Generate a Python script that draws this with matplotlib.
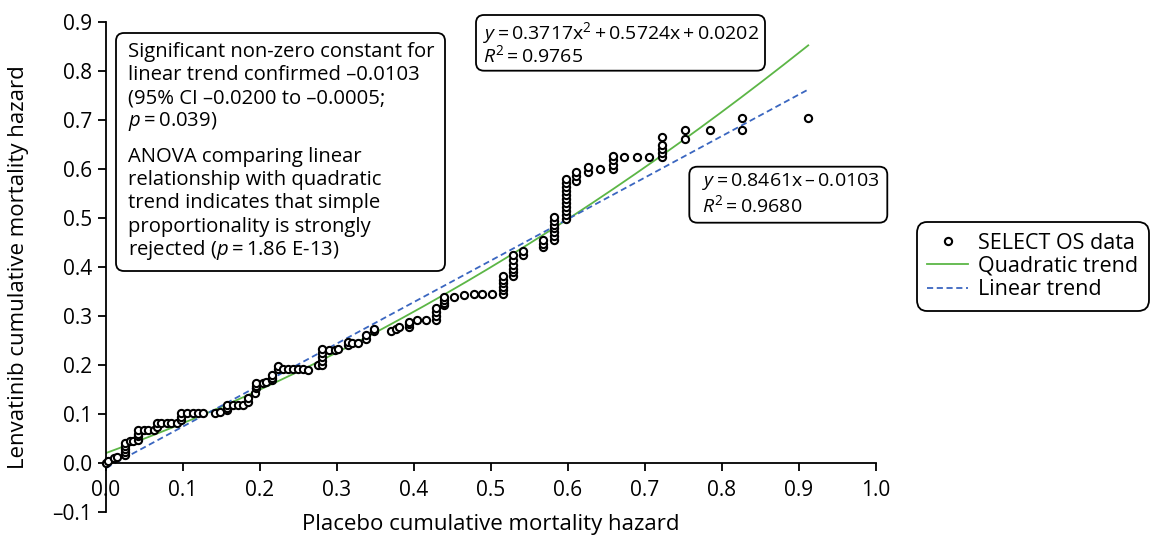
import matplotlib
matplotlib.use("Agg")
import matplotlib.pyplot as plt
import numpy as np
from matplotlib.patches import FancyBboxPatch
from matplotlib.transforms import IdentityTransform

plt.rcParams['font.family'] = ['Open Sans', 'DejaVu Sans']
plt.rcParams['mathtext.fontset'] = 'custom'
plt.rcParams['mathtext.rm'] = 'Open Sans'
plt.rcParams['mathtext.it'] = 'Open Sans:italic'

# SELECT OS data: placebo vs lenvatinib cumulative mortality hazard
placebo = [0.0, 0.003, 0.01, 0.014,
           0.025, 0.025, 0.025, 0.025, 0.025,
           0.031, 0.035,
           0.041, 0.041, 0.041, 0.041,
           0.049, 0.055, 0.062,
           0.066, 0.066,
           0.072, 0.079, 0.085, 0.092,
           0.098, 0.098, 0.098,
           0.105, 0.113, 0.12, 0.126,
           0.141, 0.148,
           0.157, 0.157, 0.157,
           0.165, 0.172, 0.178,
           0.185, 0.185, 0.193,
           0.195, 0.195, 0.195,
           0.204, 0.208,
           0.215, 0.215, 0.215,
           0.223, 0.223,
           0.23, 0.236, 0.243, 0.249, 0.256, 0.262,
           0.275,
           0.281, 0.281, 0.281, 0.281, 0.281,
           0.29, 0.297, 0.301,
           0.314, 0.314, 0.32, 0.327,
           0.338, 0.338, 0.348, 0.348,
           0.37, 0.376, 0.381,
           0.394, 0.394, 0.394,
           0.404, 0.415,
           0.428, 0.428, 0.428, 0.428,
           0.439, 0.439, 0.439, 0.439,
           0.452, 0.465, 0.478, 0.488, 0.501,
           0.516, 0.516, 0.516, 0.516, 0.516, 0.516,
           0.528, 0.528, 0.528, 0.528, 0.528, 0.528,
           0.542, 0.542,
           0.568, 0.568, 0.568,
           0.582, 0.582, 0.582, 0.582, 0.582, 0.582, 0.582,
           0.597, 0.597, 0.597, 0.597, 0.597, 0.597, 0.597, 0.597, 0.597, 0.597, 0.597,
           0.611, 0.611, 0.611,
           0.626, 0.626, 0.642,
           0.658, 0.658, 0.658, 0.658,
           0.673, 0.689, 0.705,
           0.722, 0.722, 0.722, 0.722, 0.722,
           0.752, 0.752, 0.785,
           0.826, 0.826, 0.912]
lenvatinib = [0.0, 0.003, 0.01, 0.013,
              0.016, 0.022, 0.028, 0.034, 0.04,
              0.044, 0.044,
              0.047, 0.054, 0.06, 0.067,
              0.067, 0.067, 0.067,
              0.074, 0.081,
              0.081, 0.081, 0.081, 0.081,
              0.088, 0.094, 0.101,
              0.101, 0.101, 0.101, 0.101,
              0.101, 0.104,
              0.108, 0.113, 0.118,
              0.118, 0.118, 0.118,
              0.125, 0.132, 0.142,
              0.152, 0.157, 0.162,
              0.162, 0.166,
              0.169, 0.174, 0.179,
              0.192, 0.197,
              0.192, 0.192, 0.192, 0.192, 0.192, 0.189,
              0.199,
              0.2, 0.208, 0.216, 0.225, 0.233,
              0.23, 0.23, 0.233,
              0.24, 0.247, 0.244, 0.244,
              0.253, 0.261, 0.268, 0.274,
              0.27, 0.274, 0.278,
              0.278, 0.283, 0.288,
              0.291, 0.291,
              0.291, 0.299, 0.307, 0.315,
              0.321, 0.327, 0.333, 0.338,
              0.338, 0.342, 0.345, 0.345, 0.345,
              0.345, 0.352, 0.359, 0.366, 0.374, 0.382,
              0.382, 0.389, 0.396, 0.404, 0.413, 0.423,
              0.423, 0.433,
              0.44, 0.447, 0.454,
              0.454, 0.462, 0.47, 0.478, 0.486, 0.494, 0.501,
              0.497, 0.505, 0.513, 0.521, 0.53, 0.538, 0.546, 0.554, 0.562, 0.57, 0.579,
              0.575, 0.584, 0.593,
              0.593, 0.603, 0.599,
              0.599, 0.608, 0.617, 0.626,
              0.623, 0.623, 0.623,
              0.623, 0.632, 0.64, 0.648, 0.664,
              0.661, 0.678, 0.678,
              0.678, 0.704, 0.704]

# fitted trends as printed on the chart
quad_coef = [0.3717, 0.5724, 0.0202]
lin_coef = [0.8461, -0.0103]

x_ticks = [0.0, 0.1, 0.2, 0.3, 0.4, 0.5, 0.6, 0.7, 0.8, 0.9, 1.0]
y_ticks = [-0.1, 0.0, 0.1, 0.2, 0.3, 0.4, 0.5, 0.6, 0.7, 0.8, 0.9]

W, H = 1162, 536
fig = plt.figure(figsize=(W / 100, H / 100), dpi=100)
ax = fig.add_axes([106 / W, 1 - 512 / H, 770 / W, 490.5 / H])

xfit = np.linspace(0, max(placebo), 200)
ax.plot(xfit, np.polyval(quad_coef, xfit), color='#5cb646', lw=1.3,
        label='Quadratic trend', zorder=2)
ax.plot(xfit, np.polyval(lin_coef, xfit), color='#3a66c0', lw=1.3,
        linestyle=(0, (3.4, 2.0)), label='Linear trend', zorder=2)
ax.plot(placebo, lenvatinib, 'o', mfc='white', mec='black', ms=5.2, mew=1.5,
        label='SELECT OS data', zorder=3, clip_on=False)

ax.set_xlim(0, 1)
ax.set_ylim(-0.1, 0.9)
ax.spines['top'].set_visible(False)
ax.spines['right'].set_visible(False)
ax.spines['bottom'].set_position(('data', 0))
ax.spines['left'].set_linewidth(1.3)
ax.spines['bottom'].set_linewidth(1.3)
ax.set_xticks(x_ticks)
ax.set_yticks(y_ticks)
ax.set_xticklabels([f"{v:.1f}" for v in x_ticks])
ax.set_yticklabels([f"{v:.1f}".replace('-', '\u2013') for v in y_ticks])
ax.tick_params(direction='out', length=6, width=1.3, labelsize=15, pad=4)
ax.tick_params(axis='x', pad=6)

ax.set_xlabel('Placebo cumulative mortality hazard', fontsize=16, va='center')
ax.xaxis.set_label_coords(0.5, -0.0245)
ax.set_ylabel('Lenvatinib cumulative mortality hazard', fontsize=16, va='center')
ax.yaxis.set_label_coords(-0.114, 0.5)


def box(x0, y0, x1, y1):
    # rounded box in pixel coords measured from the top left
    p = FancyBboxPatch((x0, H - y1), x1 - x0, y1 - y0,
                       boxstyle='round,pad=0,rounding_size=8',
                       transform=IdentityTransform(), fc='white', ec='black',
                       lw=1.3, zorder=5)
    fig.add_artist(p)


def txt(x, y, s, size=14.6):
    fig.text(x / W, 1 - y / H, s, fontsize=size, va='center', ha='left', zorder=6)


ts = '\u2009'
box(116, 33, 445, 271)
para1 = ['Significant non-zero constant for',
         'linear trend confirmed \u20130.0103',
         '(95% CI \u20130.0200 to \u20130.0005;',
         f'$p${ts}={ts}0.039)']
para2 = ['ANOVA comparing linear',
         'relationship with quadratic',
         'trend indicates that simple',
         'proportionality is strongly',
         f'rejected ($p${ts}={ts}1.86 E-13)']
for i, s in enumerate(para1):
    txt(128, 51.7 + 23.3 * i, s)
for i, s in enumerate(para2):
    txt(128, 156.7 + 23.3 * i, s)

eq_size = 14.0
box(476, 15, 765, 70.7)
txt(482.7, 32.7, f'$y${ts}={ts}0.3717x$^2${ts}+{ts}0.5724x{ts}+{ts}0.0202', eq_size)
txt(482.7, 55, f'$R^2${ts}={ts}0.9765', eq_size)

box(689.3, 166.7, 887.3, 222.7)
txt(701.7, 181.7, f'$y${ts}={ts}0.8461x{ts}\u2013{ts}0.0103', eq_size)
txt(701.7, 205, f'$R^2${ts}={ts}0.9680', eq_size)

h, l = ax.get_legend_handles_labels()
order = [2, 0, 1]
leg = ax.legend([h[i] for i in order], [l[i] for i in order],
                loc='upper left', bbox_to_anchor=(916.7 / W, 1 - 222 / H),
                bbox_transform=fig.transFigure, borderaxespad=0,
                fontsize=15.5, handlelength=1.9, handletextpad=0.45,
                labelspacing=0.1, borderpad=0.5, fancybox=True, framealpha=1)
leg.get_frame().set_edgecolor('black')
leg.get_frame().set_linewidth(1.3)
leg.get_frame().set_boxstyle('round,pad=0,rounding_size=0.5')

fig.savefig('out.png', dpi=100)
